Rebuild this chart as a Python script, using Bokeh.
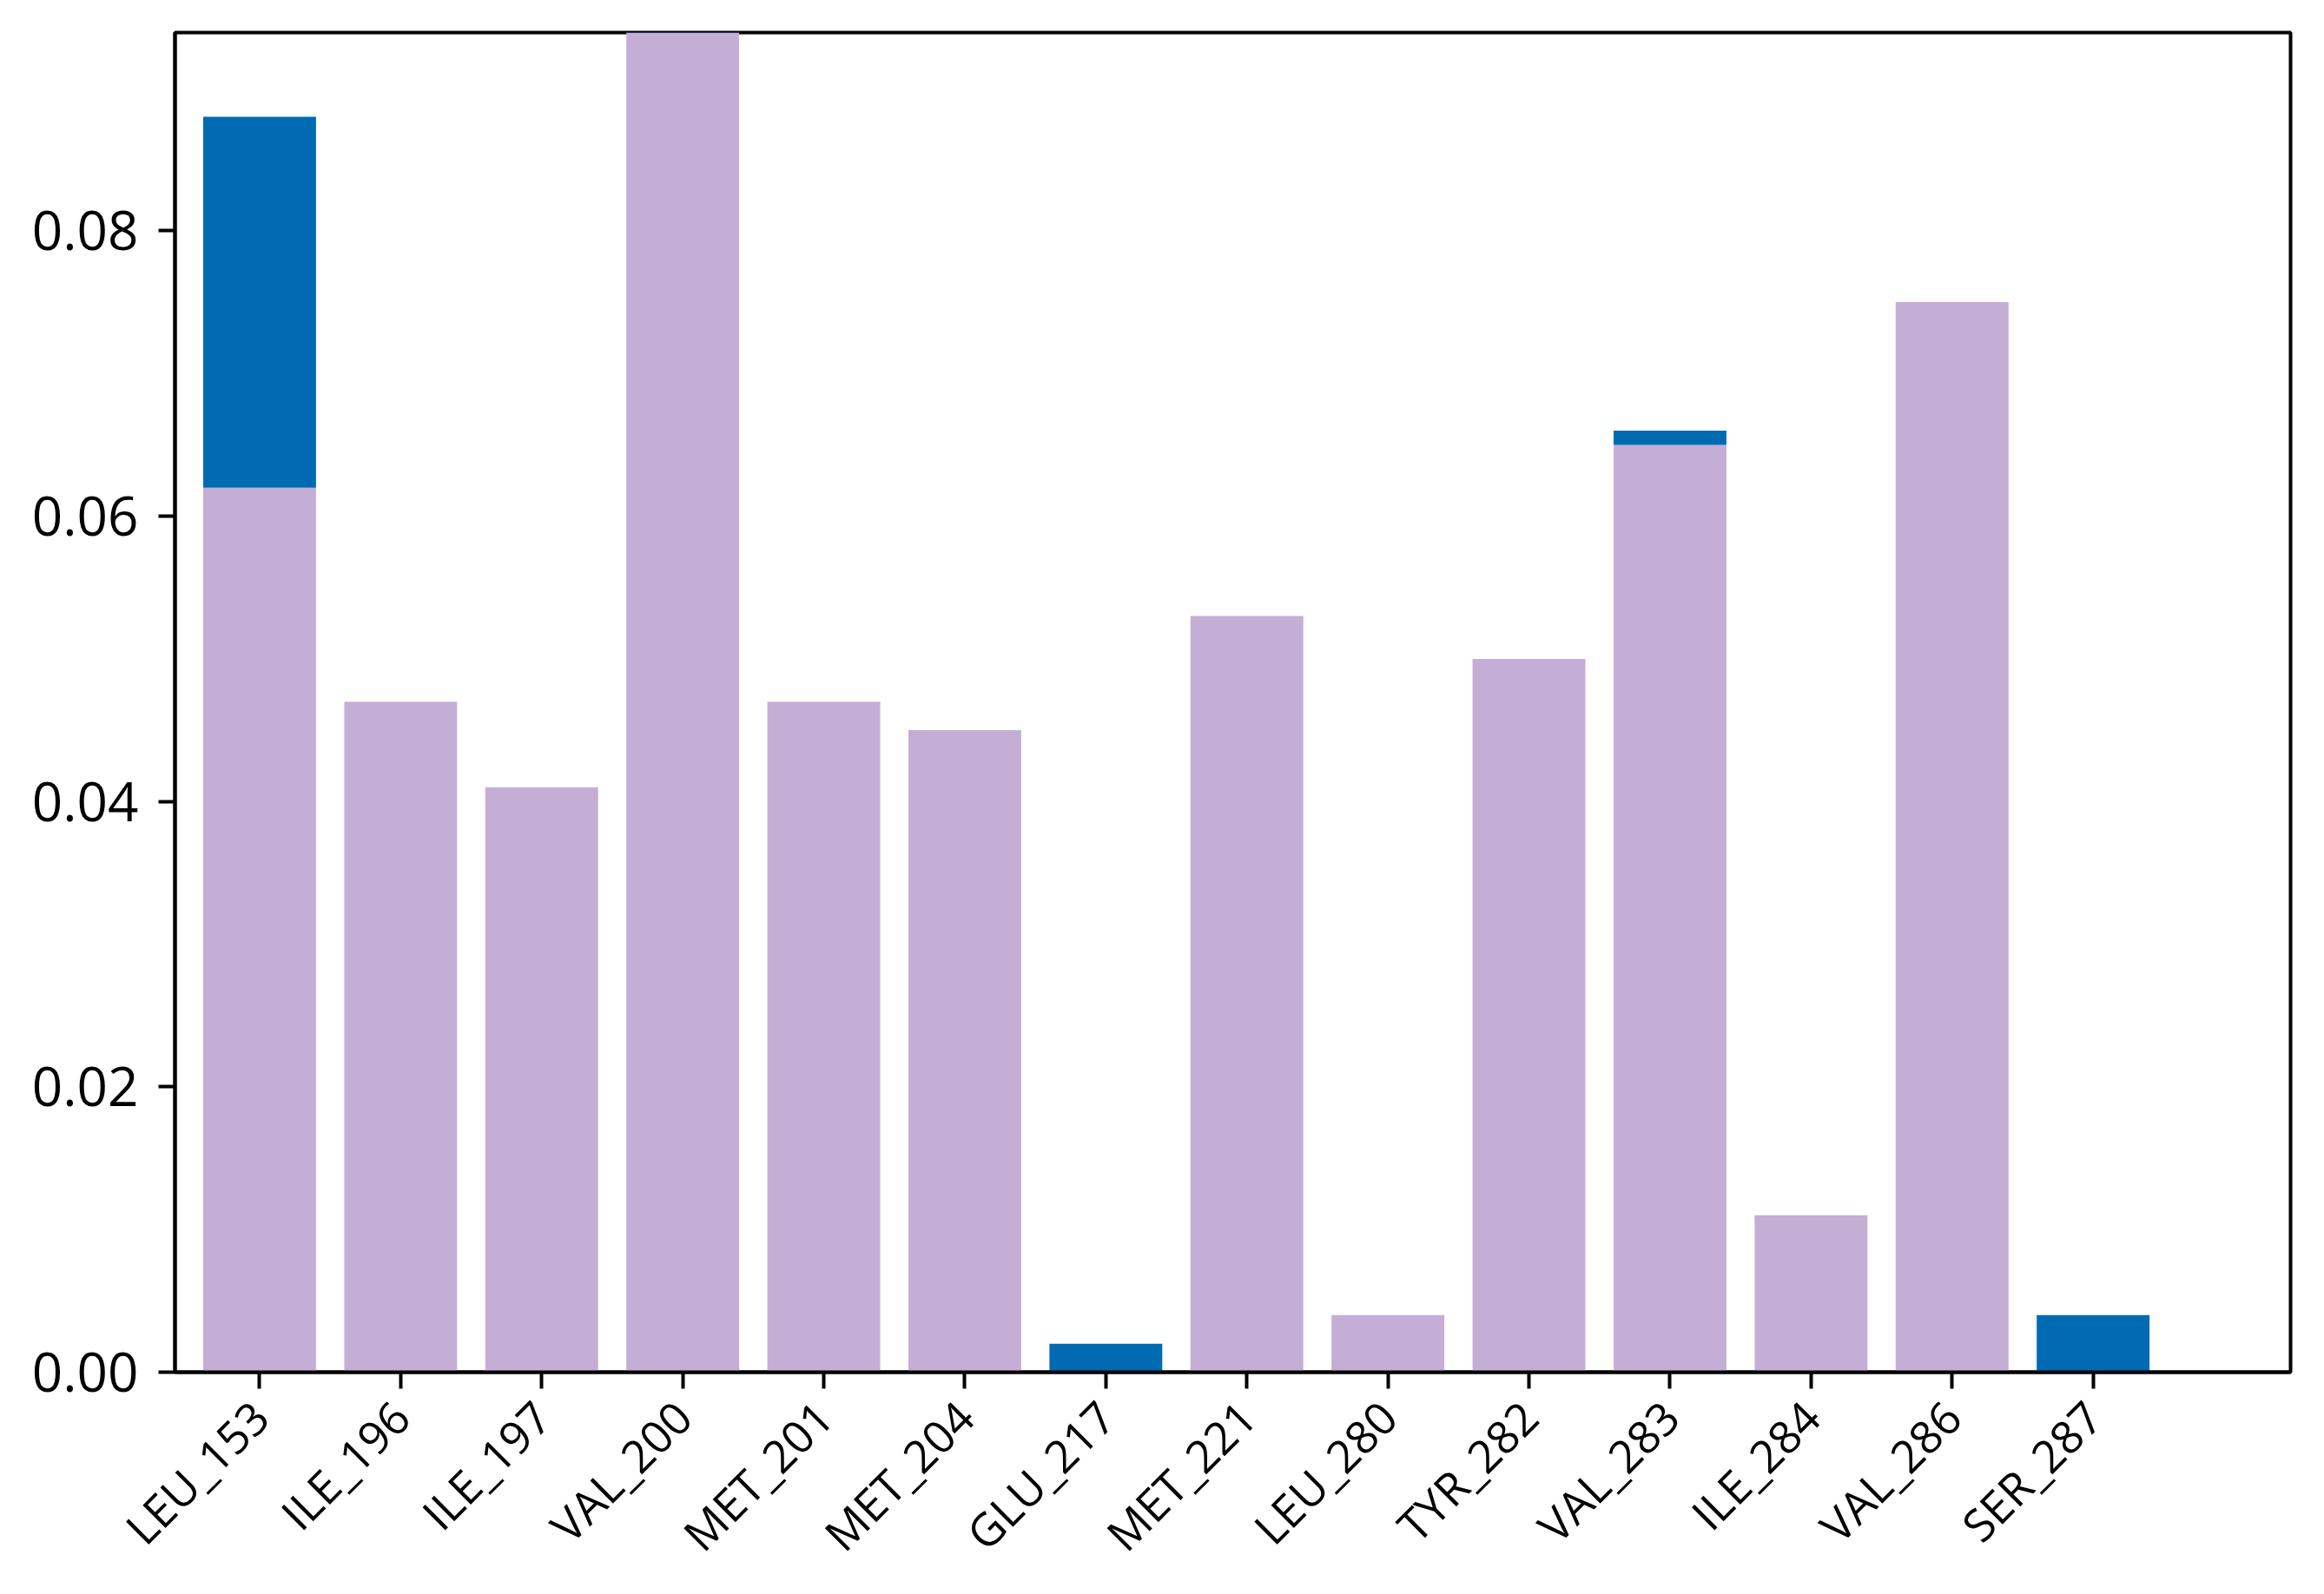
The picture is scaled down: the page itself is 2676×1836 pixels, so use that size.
import math
from bokeh.plotting import figure
from bokeh.models import Range1d, FixedTicker, ColumnDataSource, NumeralTickFormatter
from bokeh.embed import file_html
from bokeh.resources import INLINE

# ---- data ----
residues = ["LEU_153", "ILE_196", "ILE_197", "VAL_200", "MET_201", "MET_204", "GLU_217",
            "MET_221", "LEU_280", "TYR_282", "VAL_283", "ILE_284", "VAL_286", "SER_287"]
purple_vals = [0.062, 0.047, 0.041, 0.098, 0.047, 0.045, 0.0, 0.053, 0.004, 0.050, 0.065, 0.011, 0.075, 0.0]
blue_vals = [0.026, 0.0, 0.0, 0.0, 0.0, 0.0, 0.002, 0.0, 0.0, 0.0, 0.001, 0.0, 0.0, 0.004]
y_ticks = [0.00, 0.02, 0.04, 0.06, 0.08]

PURPLE = "#C5AED6"
BLUE = "#006BB3"
FONT = "Open Sans"

xs = list(range(len(residues)))
src = ColumnDataSource(dict(
    x=xs,
    purple=purple_vals,
    total=[p + b for p, b in zip(purple_vals, blue_vals)],
))

p = figure(width=2660, height=1828, output_backend="svg", toolbar_location=None,
           x_range=Range1d(-0.6, 14.4), y_range=Range1d(0, 0.0939),
           min_border_left=201, min_border_right=23, min_border_top=37, min_border_bottom=246)

p.vbar(x="x", top="purple", bottom=0, width=0.8, source=src, fill_color=PURPLE, line_color=None)
p.vbar(x="x", top="total", bottom="purple", width=0.8, source=src, fill_color=BLUE, line_color=None)

p.xgrid.visible = False
p.ygrid.visible = False
p.background_fill_color = "white"
p.border_fill_color = "white"
p.outline_line_color = "black"
p.outline_line_width = 4

for ax in (p.xaxis[0], p.yaxis[0]):
    ax.axis_line_width = 4
    ax.axis_line_color = "black"
    ax.major_tick_line_width = 4
    ax.major_tick_line_color = "black"
    ax.major_tick_out = 19
    ax.major_tick_in = 0
    ax.minor_tick_line_color = None
    ax.major_label_text_font = FONT
    ax.major_label_text_color = "black"

p.yaxis.ticker = FixedTicker(ticks=y_ticks)
p.yaxis.formatter = NumeralTickFormatter(format="0.00")
p.yaxis.major_label_text_font_size = "62px"
p.yaxis.major_label_standoff = 23

p.xaxis.ticker = FixedTicker(ticks=xs)
p.xaxis.major_label_overrides = {i: r for i, r in enumerate(residues)}
p.xaxis.major_label_orientation = math.pi / 4
p.xaxis.major_label_text_font_size = "52px"
p.xaxis.major_label_standoff = 23

open("out.html", "w").write(file_html(p, INLINE))
